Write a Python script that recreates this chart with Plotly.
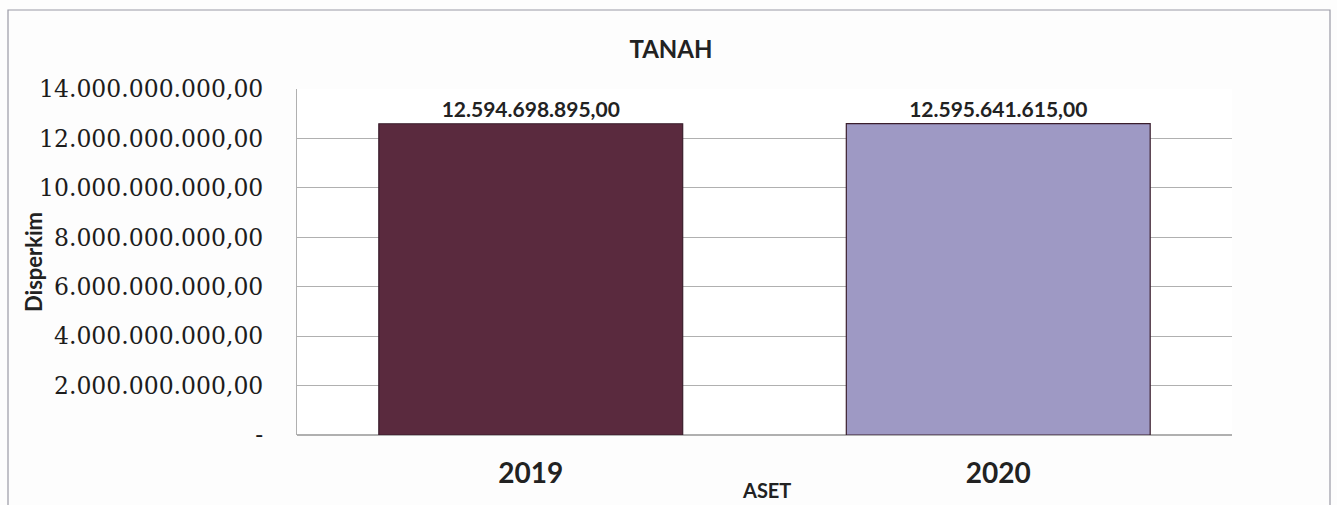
import plotly.graph_objects as go

# TANAH asset values per year (Disperkim)
years = ["2019", "2020"]
values = [12594698895.00, 12595641615.00]
value_labels = ["12.594.698.895,00", "12.595.641.615,00"]
bar_colors = ["#5a2a3e", "#9e99c4"]

tick_vals = [0, 2e9, 4e9, 6e9, 8e9, 10e9, 12e9, 14e9]
tick_text = ["-", "2.000.000.000,00", "4.000.000.000,00", "6.000.000.000,00",
             "8.000.000.000,00", "10.000.000.000,00", "12.000.000.000,00",
             "14.000.000.000,00"]

# plot-area geometry in pixels
L, R, T, B = 297, 105, 89, 70
W, H = 1337, 505
PW, PH = W - L - R, H - T - B

fig = go.Figure()
fig.add_trace(go.Bar(
    x=years,
    y=values,
    marker=dict(color=bar_colors, line=dict(color="#3a1e2c", width=1.2)),
    text=["<b>" + t + "</b>" for t in value_labels],
    textposition="outside",
    textfont=dict(family="Lato", size=21, color="#222222"),
    cliponaxis=False,
    width=0.65,
))

fig.update_layout(
    width=W,
    height=H,
    margin=dict(l=L, r=R, t=T, b=B),
    paper_bgcolor="#fdfdfd",
    plot_bgcolor="#ffffff",
    showlegend=False,
    title=dict(
        text="<b>TANAH</b>",
        x=(671 - L) / PW, xref="paper", xanchor="center",
        y=1 - 50 / H, yanchor="middle",
        font=dict(family="Lato", size=24, color="#222222"),
    ),
    xaxis=dict(
        tickfont=dict(family="Lato", size=28, color="#222222"),
        ticklabelstandoff=19,
        tickprefix="<b>",
        ticksuffix="</b>",
        showline=False,
        showgrid=False,
    ),
    yaxis=dict(
        range=[0, 14e9],
        tickvals=tick_vals,
        ticktext=tick_text,
        tickfont=dict(family="DejaVu Serif", size=23.5, color="#1c1c1c"),
        ticklabelstandoff=28,
        showgrid=True,
        gridcolor="#b0b0b0",
        gridwidth=1,
        showline=True,
        linecolor="#b0b0b0",
        linewidth=1,
        zeroline=True,
        zerolinecolor="#b0b0b0",
    ),
    annotations=[
        dict(text="<b>ASET</b>", xref="paper", yref="paper",
             x=(766 - L) / PW, y=-(490 - (T + PH)) / PH,
             xanchor="center", yanchor="middle", showarrow=False,
             font=dict(family="Lato", size=20, color="#222222")),
        dict(text="<b>Disperkim</b>", xref="paper", yref="paper",
             x=(33 - L) / PW, y=(T + PH - 262) / PH,
             xanchor="center", yanchor="middle", showarrow=False, textangle=-90,
             font=dict(family="Lato", size=22, color="#222222")),
    ],
    shapes=[dict(
        type="rect", xref="paper", yref="paper",
        x0=(8 - L) / PW, x1=(1330 - L) / PW,
        y0=-(512 - (T + PH)) / PH, y1=(T + PH - 10) / PH,
        line=dict(color="#9a9aa6", width=1.2),
        fillcolor="rgba(0,0,0,0)",
        layer="below",
    )],
)

fig.write_html("out.html")
